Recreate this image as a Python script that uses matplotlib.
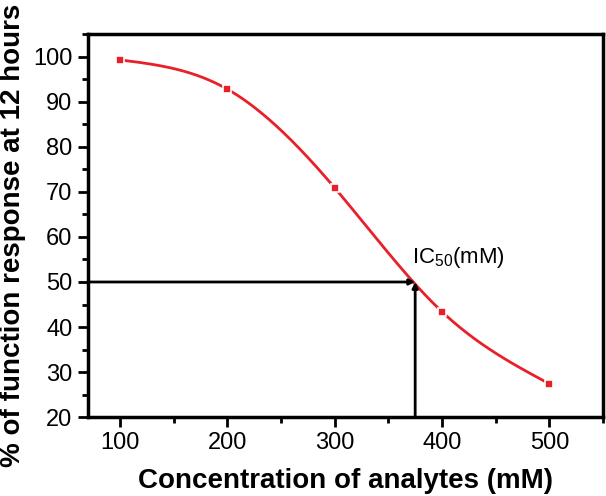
import numpy as np
import matplotlib
matplotlib.use('Agg')
import matplotlib.pyplot as plt
from matplotlib.ticker import MultipleLocator

# data
conc = [100, 200, 300, 400, 500]
response = [99.3, 92.8, 70.9, 43.4, 27.4]
ic50 = 375
ic50_level = 50


def natural_spline(x, y, xs):
    # natural cubic spline through the measured points
    x = np.asarray(x, float); y = np.asarray(y, float)
    n = len(x)
    h = np.diff(x)
    A = np.zeros((n, n)); b = np.zeros(n)
    A[0, 0] = A[-1, -1] = 1
    for i in range(1, n - 1):
        A[i, i - 1] = h[i - 1]
        A[i, i] = 2 * (h[i - 1] + h[i])
        A[i, i + 1] = h[i]
        b[i] = 6 * ((y[i + 1] - y[i]) / h[i] - (y[i] - y[i - 1]) / h[i - 1])
    M = np.linalg.solve(A, b)
    k = np.clip(np.searchsorted(x, xs) - 1, 0, n - 2)
    t = xs - x[k]; hk = h[k]
    a = (M[k + 1] - M[k]) / (6 * hk)
    c = (y[k + 1] - y[k]) / hk - hk * (2 * M[k] + M[k + 1]) / 6
    return y[k] + c * t + M[k] / 2 * t ** 2 + a * t ** 3


plt.rcParams['font.family'] = ['Liberation Sans', 'DejaVu Sans']
plt.rcParams['mathtext.fontset'] = 'custom'
plt.rcParams['mathtext.rm'] = 'Liberation Sans'
plt.rcParams['mathtext.it'] = 'Liberation Sans'

fig = plt.figure(figsize=(6.06, 4.96), dpi=100)
ax = fig.add_axes([0.145, 0.159, 0.85, 0.772])

xs = np.linspace(conc[0], conc[-1], 300)
ax.plot(xs, natural_spline(conc, response, xs), color='#e8202a', lw=2, zorder=3)
ax.plot(conc, response, 's', color='#e8202a', ms=6, mec='white', mew=1.2, zorder=4)

# IC50 guide lines
ax.annotate('', xy=(ic50, ic50_level), xytext=(70, ic50_level),
            arrowprops=dict(arrowstyle='-|>', color='black', lw=2, mutation_scale=8,
                            shrinkA=0, shrinkB=0))
ax.annotate('', xy=(ic50, ic50_level), xytext=(ic50, 20),
            arrowprops=dict(arrowstyle='-|>', color='black', lw=2, mutation_scale=8,
                            shrinkA=0, shrinkB=0))
ax.text(372, 55.5, r'IC$_{\mathrm{50}}$(mM)', fontsize=16, va='center', ha='left')

ax.set_xlim(70, 550)
ax.set_ylim(20, 105)
ax.xaxis.set_major_locator(MultipleLocator(100))
ax.xaxis.set_minor_locator(MultipleLocator(50))
ax.yaxis.set_major_locator(MultipleLocator(10))
ax.yaxis.set_minor_locator(MultipleLocator(5))
ax.tick_params(which='major', direction='out', length=7, width=2, labelsize=17, pad=4)
ax.tick_params(which='minor', direction='out', length=4, width=2)
for s in ax.spines.values():
    s.set_linewidth(2.5)

ax.set_xlabel('Concentration of analytes (mM)', fontsize=20, fontweight='bold', labelpad=10)
fig.text(0.0, 0.058, '% of function response at 12 hours', rotation=90,
         fontsize=20, fontweight='bold', ha='left', va='bottom')

fig.savefig('out.png', dpi=100)
